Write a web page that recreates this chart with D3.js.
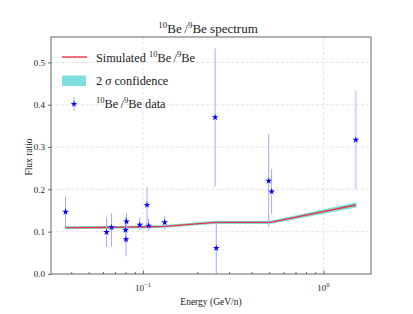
<!DOCTYPE html>
<html lang="en">
<head>
  <meta charset="UTF-8">
  <title>10Be/9Be spectrum</title>
  <style>
    body{ margin: 0; background: #fff; }
    svg text{ font-family: "Liberation Serif", "DejaVu Serif", serif; fill: #222; }
    .grid line{ stroke: #ddd; stroke-dasharray: 3,2; stroke-width: 0.8px; }
    .axis path, .axis line{ stroke: #444; stroke-width: 0.8px; }
    .axis text{ font-size: 9px; }
  </style>
</head>
<body>
  <script src="https://cdn.jsdelivr.net/npm/d3@7"></script>
  <script>
    // measured data points
    const energy  = [0.0372, 0.0628, 0.0669, 0.0800, 0.0805, 0.0810, 0.0959, 0.1052, 0.1074, 0.1318, 0.2510, 0.2546, 0.4970, 0.5160, 1.51];
    const ratio   = [0.147, 0.099, 0.110, 0.104, 0.082, 0.124, 0.116, 0.163, 0.114, 0.122, 0.370, 0.061, 0.220, 0.195, 0.317];
    const errUp   = [0.036, 0.035, 0.033, 0.030, 0.040, 0.020, 0.018, 0.042, 0.016, 0.016, 0.163, 0.060, 0.111, 0.053, 0.116];
    const errDown = [0.036, 0.035, 0.045, 0.030, 0.040, 0.020, 0.012, 0.045, 0.012, 0.017, 0.163, 0.060, 0.108, 0.053, 0.117];

    // simulated curve and its 2 sigma band
    const simEnergy = [0.0372, 0.0628, 0.0800, 0.1052, 0.1318, 0.2510, 0.4970, 0.5160, 1.51];
    const simRatio  = [0.1095, 0.1100, 0.1108, 0.1115, 0.1125, 0.1220, 0.1222, 0.1225, 0.1630];
    const simSigma  = [0.0015, 0.0015, 0.0015, 0.0016, 0.0016, 0.0018, 0.0020, 0.0020, 0.0045];

    const yTicks = [0.0, 0.1, 0.2, 0.3, 0.4, 0.5];

    const width = 413, height = 314;
    const m = {left: 51, right: 42, top: 37, bottom: 40};

    const x = d3.scaleLog().domain([0.0309, 1.834]).range([m.left, width - m.right]);
    const y = d3.scaleLinear().domain([0, 0.56]).range([height - m.bottom, m.top]);

    const svg = d3.select('body').append('svg')
      .attr('width', width)
      .attr('height', height);

    // grid
    svg.append('g').attr('class', 'grid')
      .selectAll('line').data(yTicks.slice(1)).enter().append('line')
      .attr('x1', m.left).attr('x2', width - m.right)
      .attr('y1', d => y(d)).attr('y2', d => y(d));
    svg.append('g').attr('class', 'grid')
      .selectAll('line').data([0.1, 1]).enter().append('line')
      .attr('y1', m.top).attr('y2', height - m.bottom)
      .attr('x1', d => x(d)).attr('x2', d => x(d));

    // band + simulated line
    const sim = simEnergy.map((e, i) => ({e: e, r: simRatio[i], s: simSigma[i]}));
    const area = d3.area().x(d => x(d.e)).y0(d => y(d.r - d.s)).y1(d => y(d.r + d.s));
    const line = d3.line().x(d => x(d.e)).y(d => y(d.r));
    svg.append('path').attr('d', area(sim))
      .attr('fill', '#7fdede').attr('stroke', '#7fdede').attr('stroke-width', 1.5);
    svg.append('path').attr('d', line(sim))
      .attr('fill', 'none').attr('stroke', '#e8323c').attr('stroke-width', 1.4);

    // data with error bars
    const pts = energy.map((e, i) => ({e: e, r: ratio[i], up: errUp[i], dn: errDown[i]}));
    svg.append('g').selectAll('line').data(pts).enter().append('line')
      .attr('x1', d => x(d.e)).attr('x2', d => x(d.e))
      .attr('y1', d => y(d.r + d.up)).attr('y2', d => y(Math.max(0, d.r - d.dn)))
      .attr('stroke', (d, i) => i === pts.length - 1 ? '#d6d6fb' : '#a8a8f8')
      .attr('stroke-width', (d, i) => i === pts.length - 1 ? 2.2 : 1);
    const star = d3.symbol().type(d3.symbolStar).size(14);
    svg.append('g').selectAll('path').data(pts).enter().append('path')
      .attr('d', star)
      .attr('transform', d => `translate(${x(d.e)},${y(d.r)})`)
      .attr('fill', '#0000ff');

    // axes
    const xAxis = svg.append('g').attr('class', 'axis')
      .attr('transform', `translate(0,${height - m.bottom})`)
      .call(d3.axisBottom(x).tickValues([0.04,0.05,0.06,0.07,0.08,0.09,0.2,0.3,0.4,0.5,0.6,0.7,0.8,0.9])
        .tickSize(-2).tickFormat('').tickSizeOuter(0));
    xAxis.select('.domain').remove();
    const xMajor = svg.append('g').attr('class', 'axis')
      .attr('transform', `translate(0,${height - m.bottom})`)
      .call(d3.axisBottom(x).tickValues([0.1, 1]).tickSize(-3.5).tickFormat('').tickSizeOuter(0));
    xMajor.select('.domain').remove();
    svg.append('g').selectAll('text').data([[0.1, '\u22121'], [1, '0']]).enter().append('text')
      .attr('x', d => x(d[0])).attr('y', height - m.bottom + 17)
      .attr('text-anchor', 'middle').attr('font-size', 9)
      .html(d => `10<tspan dy="-4" font-size="6.5">${d[1]}</tspan>`);

    svg.append('g').attr('class', 'axis')
      .attr('transform', `translate(${m.left},0)`)
      .call(d3.axisLeft(y).tickValues(yTicks).tickFormat(d3.format('.1f')).tickSize(3).tickSizeOuter(0))
      .select('.domain').remove();

    // frame
    svg.append('rect')
      .attr('x', m.left).attr('y', m.top)
      .attr('width', width - m.left - m.right).attr('height', height - m.top - m.bottom)
      .attr('fill', 'none').attr('stroke', '#555').attr('stroke-width', 0.9);

    // labels
    svg.append('text').attr('x', 208).attr('y', 33).attr('text-anchor', 'middle').attr('font-size', 13)
      .html('<tspan dy="0" font-size="9" baseline-shift="super">10</tspan>Be\u2009/<tspan font-size="9" baseline-shift="super">9</tspan>Be spectrum');
    svg.append('text').attr('x', (m.left + width - m.right) / 2).attr('y', 305)
      .attr('text-anchor', 'middle').attr('font-size', 9.5).text('Energy (GeV/n)');
    svg.append('text').attr('transform', 'translate(32,157) rotate(-90)')
      .attr('text-anchor', 'middle').attr('font-size', 9.5).text('Flux ratio');

    // legend
    const lg = svg.append('g');
    lg.append('line').attr('x1', 62).attr('x2', 87).attr('y1', 57).attr('y2', 57)
      .attr('stroke', '#e8323c').attr('stroke-width', 1.4);
    lg.append('text').attr('x', 96).attr('y', 62).attr('font-size', 12.3)
      .html('Simulated <tspan font-size="8.5" baseline-shift="super">10</tspan>Be\u2009/<tspan font-size="8.5" baseline-shift="super">9</tspan>Be');
    lg.append('rect').attr('x', 62).attr('y', 75.5).attr('width', 24).attr('height', 10.5).attr('fill', '#7fdede');
    lg.append('text').attr('x', 96).attr('y', 85).attr('font-size', 12.3)
      .html('2 <tspan font-style="italic">\u03c3</tspan> confidence');
    lg.append('line').attr('x1', 74).attr('x2', 74).attr('y1', 97).attr('y2', 111)
      .attr('stroke', '#a8a8f8').attr('stroke-width', 1);
    lg.append('path').attr('d', star).attr('transform', 'translate(74,104)').attr('fill', '#0000ff');
    lg.append('text').attr('x', 96).attr('y', 108).attr('font-size', 12.3)
      .html('<tspan font-size="8.5" baseline-shift="super">10</tspan>Be\u2009/<tspan font-size="8.5" baseline-shift="super">9</tspan>Be data');
  </script>
</body>
</html>
